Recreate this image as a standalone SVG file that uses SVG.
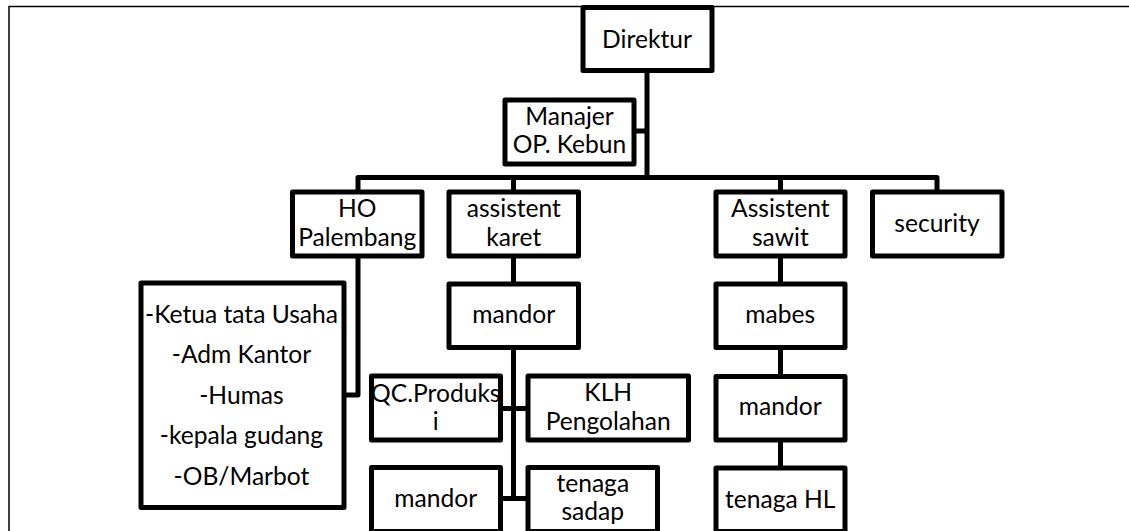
<svg xmlns="http://www.w3.org/2000/svg" width="1129" height="531" viewBox="0 0 1129 531">
  <style>
    .box { fill: #fff; stroke: #000; stroke-width: 5; stroke-linejoin: round; }
    .link { fill: none; stroke: #000; stroke-width: 5; stroke-linejoin: round; }
    .frame { fill: none; stroke: #000; stroke-width: 1.5; }
    text { font-family: Lato, "Liberation Sans", sans-serif; font-size: 24.6px; fill: #000; text-anchor: middle; }
  </style>
  <rect width="1129" height="531" fill="#fff"/>
  <!-- page frame (top and left edges) -->
  <path class="frame" d="M9,531 V6.5 H1129"/>

  <g id="connectors">
    <path class="link" d="M647,70 V177.5"/>
    <path class="link" d="M633,131 H647"/>
    <path class="link" d="M358,193 V177.5 H937 V193"/>
    <path class="link" d="M513.5,177.5 V193"/>
    <path class="link" d="M780.5,177.5 V193"/>
    <path class="link" d="M358,256 V395 H344"/>
    <path class="link" d="M513.5,256 V285"/>
    <path class="link" d="M513.5,347 V499"/>
    <path class="link" d="M500,408.5 H528"/>
    <path class="link" d="M500,498.5 H528"/>
    <path class="link" d="M780.5,256 V285"/>
    <path class="link" d="M780.5,347 V377"/>
    <path class="link" d="M780.5,439 V469"/>
  </g>

  <g id="direktur">
    <rect class="box" x="583" y="7.5" width="129" height="63"/>
    <text x="647" y="48">Direktur</text>
  </g>
  <g id="manajer">
    <rect class="box" x="505" y="100" width="129" height="64"/>
    <text x="569.5" y="125">Manajer</text>
    <text x="569.5" y="153">OP. Kebun</text>
  </g>
  <g id="ho-palembang">
    <rect class="box" x="292.5" y="192" width="129.5" height="64"/>
    <text x="357.2" y="216.5">HO</text>
    <text x="357.2" y="245.5">Palembang</text>
  </g>
  <g id="staff-ho">
    <rect class="box" x="141" y="283" width="203" height="224.5"/>
    <text x="241.5" y="322.5">-Ketua tata Usaha</text>
    <text x="241.5" y="363">-Adm Kantor</text>
    <text x="241.5" y="403.5">-Humas</text>
    <text x="241.5" y="444">-kepala gudang</text>
    <text x="241.5" y="484.5">-OB/Marbot</text>
  </g>
  <g id="assistent-karet">
    <rect class="box" x="449" y="192" width="129.5" height="64"/>
    <text x="513.8" y="216.5">assistent</text>
    <text x="513.8" y="245.5">karet</text>
  </g>
  <g id="mandor-karet">
    <rect class="box" x="449" y="284" width="129.5" height="63.5"/>
    <text x="513.8" y="323">mandor</text>
  </g>
  <g id="qc-produksi">
    <rect class="box" x="371.5" y="376" width="129" height="64"/>
    <text x="435.8" y="401.5">QC.Produks</text>
    <text x="435.8" y="430">i</text>
  </g>
  <g id="klh-pengolahan">
    <rect class="box" x="528" y="376" width="160.5" height="64"/>
    <text x="608.2" y="401">KLH</text>
    <text x="608.2" y="430">Pengolahan</text>
  </g>
  <g id="mandor-sadap">
    <rect class="box" x="371.5" y="467.5" width="129" height="64"/>
    <text x="435.8" y="506.5">mandor</text>
  </g>
  <g id="tenaga-sadap">
    <rect class="box" x="528" y="467.5" width="129.5" height="64"/>
    <text x="592.8" y="491.5">tenaga</text>
    <text x="592.8" y="520">sadap</text>
  </g>
  <g id="assistent-sawit">
    <rect class="box" x="716" y="192" width="129" height="64"/>
    <text x="780.3" y="216.5">Assistent</text>
    <text x="780.3" y="246">sawit</text>
  </g>
  <g id="mabes">
    <rect class="box" x="716" y="284" width="129" height="63.5"/>
    <text x="780.3" y="323">mabes</text>
  </g>
  <g id="mandor-sawit">
    <rect class="box" x="716" y="376.5" width="129" height="63.5"/>
    <text x="780.3" y="415">mandor</text>
  </g>
  <g id="tenaga-hl">
    <rect class="box" x="716" y="468" width="129" height="63.5"/>
    <text x="780.3" y="507.5">tenaga HL</text>
  </g>
  <g id="security">
    <rect class="box" x="872.5" y="192" width="129.5" height="64"/>
    <text x="937" y="231.5">security</text>
  </g>
</svg>
